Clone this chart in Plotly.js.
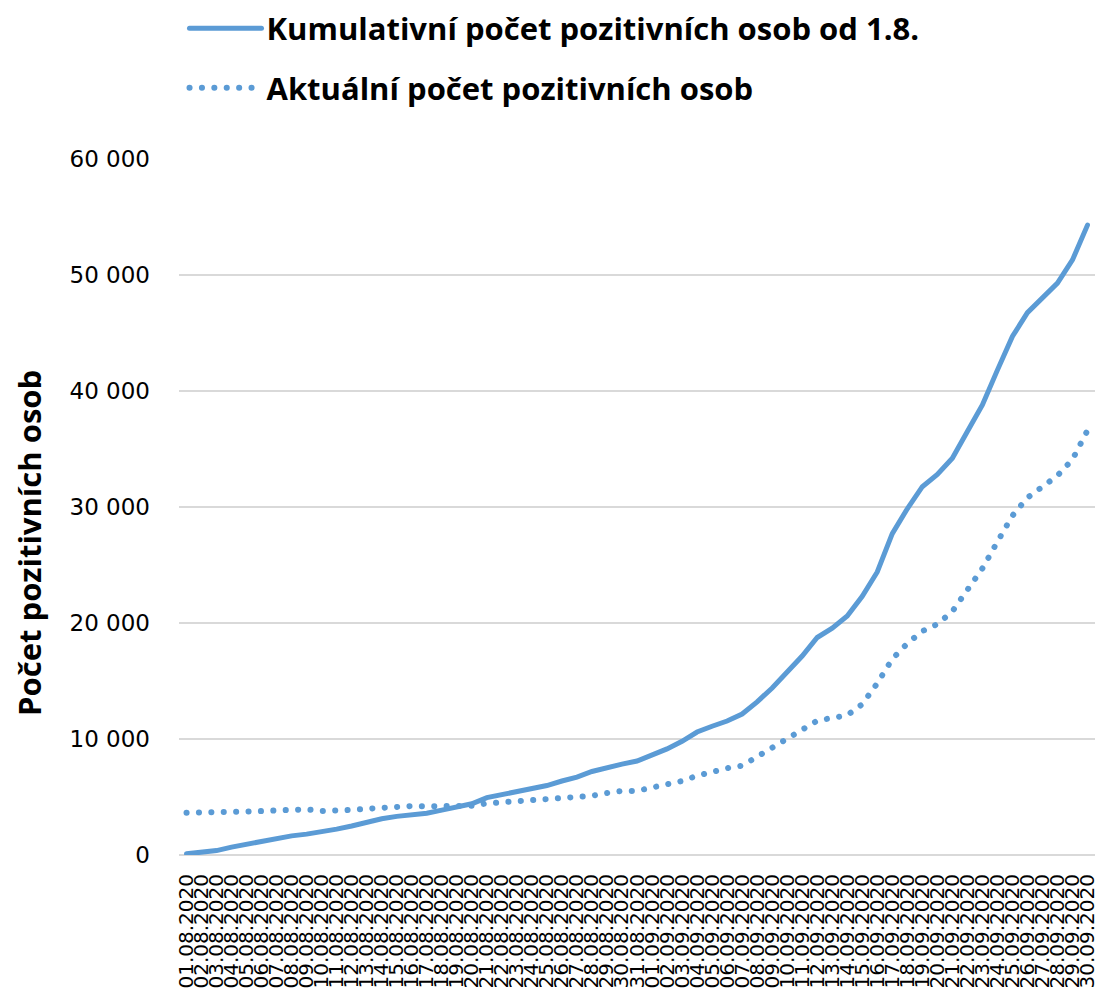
<!DOCTYPE html>
<html>
<head>
<meta charset="utf-8">
<script src="https://cdn.plot.ly/plotly-3.0.1.min.js"></script>
<style>
  html, body { margin: 0; padding: 0; background: #fff; }
  #chart { width: 1097px; height: 993px; }
  path.js-line { stroke-linecap: round; }
</style>
</head>
<body>
<div id="chart"></div>
<script>
const dates = [
  "01.08.2020","02.08.2020","03.08.2020","04.08.2020","05.08.2020","06.08.2020","07.08.2020","08.08.2020",
  "09.08.2020","10.08.2020","11.08.2020","12.08.2020","13.08.2020","14.08.2020","15.08.2020","16.08.2020",
  "17.08.2020","18.08.2020","19.08.2020","20.08.2020","21.08.2020","22.08.2020","23.08.2020","24.08.2020",
  "25.08.2020","26.08.2020","27.08.2020","28.08.2020","29.08.2020","30.08.2020","31.08.2020",
  "01.09.2020","02.09.2020","03.09.2020","04.09.2020","05.09.2020","06.09.2020","07.09.2020","08.09.2020",
  "09.09.2020","10.09.2020","11.09.2020","12.09.2020","13.09.2020","14.09.2020","15.09.2020","16.09.2020",
  "17.09.2020","18.09.2020","19.09.2020","20.09.2020","21.09.2020","22.09.2020","23.09.2020","24.09.2020",
  "25.09.2020","26.09.2020","27.09.2020","28.09.2020","29.09.2020","30.09.2020"
];

const kumulativni = [
  100, 200, 380, 680, 920, 1170, 1460, 1650, 1800, 1970,
  2230, 2500, 2820, 3120, 3330, 3470, 3600, 3870, 4150, 4420,
  4950, 5220, 5400, 5680, 5990, 6380, 6720, 7200, 7550, 7830,
  8100, 8600, 9150, 9800, 10600, 11100, 11550, 12150, 13200, 14400,
  15700, 17150, 18750, 19550, 20600, 22300, 24400, 27700, 29850, 31750,
  32800, 34200, 36500, 38800, 41800, 44700, 46750, 48000, 49300, 51300,
  54300
];

const aktualni = [
  3650, 3650, 3670, 3720, 3750, 3790, 3830, 3900, 3940, 3800,
  3820, 3890, 3990, 4080, 4180, 4220, 4190, 4190, 4200, 4250,
  4450, 4550, 4650, 4650, 4740, 4870, 4950, 5100, 5340, 5520,
  5530, 5800, 6200, 6380, 6830, 7200, 7480, 7700, 8500, 9350,
  10150, 10800, 11580, 11750, 12050, 13000, 14800, 16900, 18230, 19300,
  19900, 21000, 22840, 24700, 27000, 29250, 30800, 31700, 32700, 34100,
  36600
];

const yTicks = [0, 10000, 20000, 30000, 40000, 50000, 60000];
const yTickText = ["0", "10 000", "20 000", "30 000", "40 000", "50 000", "60 000"];

const seriesNames = ["Kumulativní počet pozitivních osob od 1.8.", "Aktuální počet pozitivních osob"];
const yTitle = "Počet pozitivních osob";

const blue = "#5B9BD5";

const traces = [
  {
    x: dates, y: kumulativni, type: "scatter", mode: "lines",
    name: seriesNames[0], legendgroup: "a",
    line: { color: blue, width: 5 },
    hoverinfo: "skip"
  },
  {
    x: dates, y: aktualni, type: "scatter", mode: "lines",
    name: seriesNames[1], legendgroup: "b",
    line: { color: blue, width: 6, dash: "0.1px,12.3px" },
    hoverinfo: "skip"
  }
];

const layout = {
  width: 1097, height: 993,
  margin: { l: 179, r: 2, t: 159, b: 138 },
  paper_bgcolor: "#ffffff", plot_bgcolor: "#ffffff",
  showlegend: true,
  legend: {
    x: 0.006, y: 1.226, xanchor: "left", yanchor: "top",
    orientation: "v", traceorder: "grouped", tracegroupgap: 16,
    font: { family: "'Open Sans', sans-serif", size: 31, color: "#000", weight: "bold" },
    itemwidth: 72, bgcolor: "rgba(0,0,0,0)"
  },
  xaxis: {
    type: "category",
    range: [-0.5, 60.5],
    tickmode: "linear", tick0: 0, dtick: 1,
    tickangle: -90,
    tickfont: { family: "DejaVu Sans", size: 20, color: "#000" },
    ticks: "", showgrid: false, zeroline: false,
    showline: false, ticklabelstandoff: 14,
    automargin: false, fixedrange: true
  },
  yaxis: {
    range: [0, 60000],
    tickmode: "array", tickvals: yTicks, ticktext: yTickText,
    tickfont: { family: "DejaVu Sans", size: 23, color: "#000" },
    ticks: "", showgrid: true, gridcolor: "#D9D9D9", gridwidth: 1.5,
    zeroline: true, zerolinecolor: "#D9D9D9", zerolinewidth: 1.5,
    showline: false, ticklabelstandoff: 28,
    automargin: false, fixedrange: true
  },
  annotations: [
    {
      text: "<b>" + yTitle + "</b>",
      xref: "paper", yref: "paper",
      x: -0.163, y: 0.448, xanchor: "center", yanchor: "middle",
      textangle: -90, showarrow: false,
      font: { family: "'Open Sans', sans-serif", size: 31, color: "#000" }
    }
  ]
};

Plotly.newPlot("chart", traces, layout, { staticPlot: true, displayModeBar: false });
</script>
</body>
</html>
